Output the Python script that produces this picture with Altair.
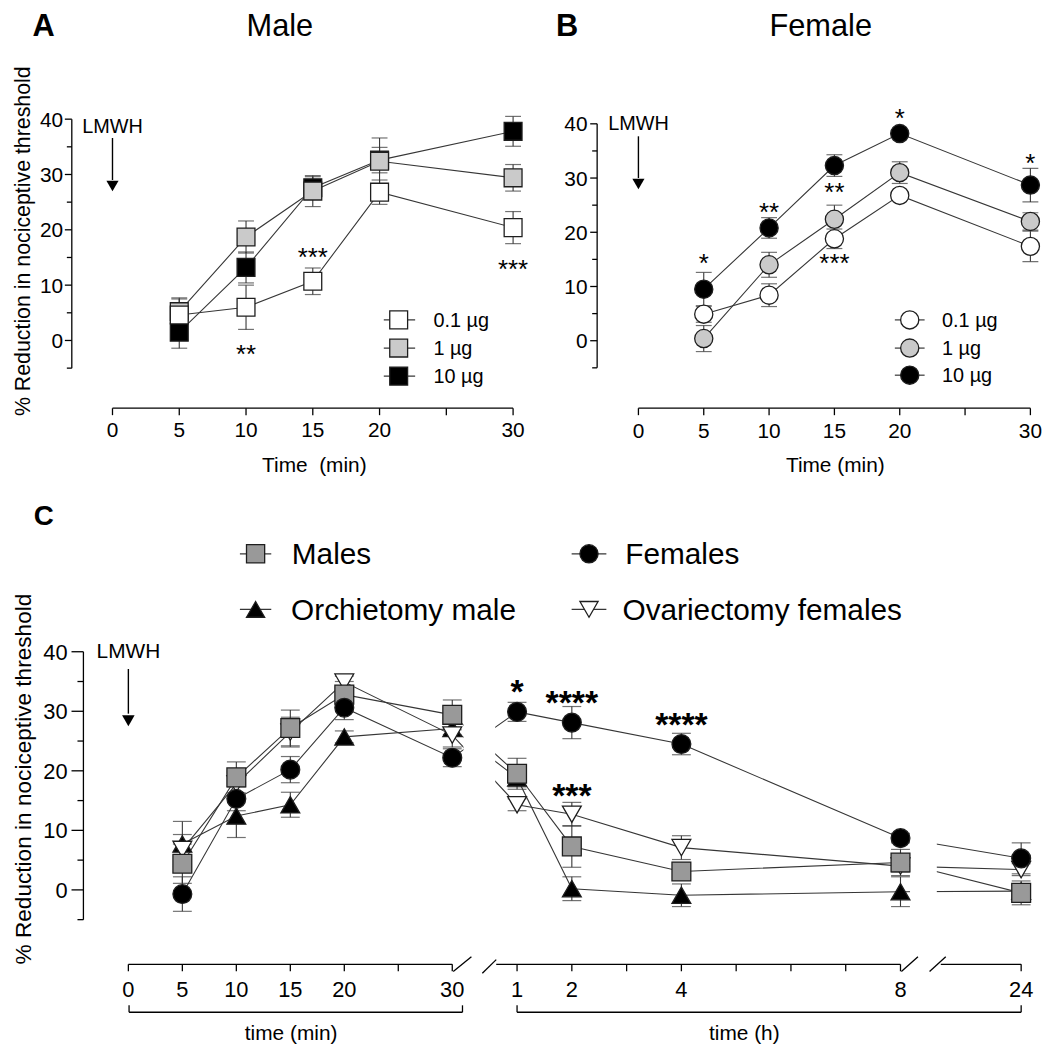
import altair as alt
import pandas as pd

OFF = 8                      # page margin
W, H = 1042, 1039
FONT = "Liberation Sans"
INK = "#000000"
LINE = "#363636"
EDGE = "#1e1e1e"
LIGHT = "#cacaca"
MID = "#999999"

# ---------------- data: panel A (Male) ----------------
A_TIME = [5, 10, 15, 20, 30]
A_NAMES = ["0.1 µg", "1 µg", "10 µg"]
A_MEAN = [[4.6, 6.0, 10.7, 26.8, 20.4],
          [5.2, 18.7, 27.0, 32.4, 29.4],
          [1.5, 13.2, 27.6, 32.6, 37.8]]
A_SEM = [[2.9, 4.0, 2.4, 2.2, 2.9],
         [2.5, 2.9, 2.8, 4.2, 2.4],
         [2.9, 2.8, 2.0, 2.3, 2.7]]
A_STAR_TEXT = ["**", "***", "***"]
A_STAR_T = [10, 15, 30]
A_STAR_V = [-1.4, 16.1, 13.9]

# ---------------- data: panel B (Female) ----------------
B_TIME = [5, 10, 15, 20, 30]
B_NAMES = ["0.1 µg", "1 µg", "10 µg"]
B_MEAN = [[4.9, 8.4, 18.8, 26.8, 17.4],
          [0.4, 14.0, 22.4, 31.0, 22.0],
          [9.5, 20.8, 32.3, 38.2, 28.7]]
B_SEM = [[1.5, 2.1, 1.8, 0.8, 2.8],
         [2.4, 2.3, 2.6, 2.0, 1.6],
         [3.1, 1.9, 2.0, 0.5, 3.1]]
B_STAR_TEXT = ["*", "**", "**", "***", "*", "*"]
B_STAR_T = [5, 10, 15, 15, 20, 30]
B_STAR_V = [15.5, 24.9, 28.5, 15.4, 42.2, 33.8]

# ---------------- data: panel C (time in minutes after LMWH) ----------------
C_TIME = [5, 10, 15, 20, 30, 60, 120, 240, 480, 1440]
C_NAMES = ["Orchietomy male", "Ovariectomy females", "Males", "Females"]
C_MEAN = [[7.7, 12.4, 14.3, 25.7, 27.1, 18.8, 0.2, -0.9, -0.3, -0.2],
          [6.8, 17.8, 26.5, 34.9, 26.0, 14.3, 12.7, 7.1, 4.0, 3.4],
          [4.4, 18.9, 27.2, 32.8, 29.4, 19.5, 7.3, 3.1, 4.6, -0.5],
          [-0.7, 15.3, 20.2, 30.6, 22.2, 29.9, 28.1, 24.5, 8.7, 5.3]]
C_SEM = [[3.8, 3.6, 2.1, 1.0, 1.0, 1.5, 2.0, 1.9, 2.5, 1.0],
         [2.5, 2.0, 2.5, 1.0, 2.0, 1.0, 2.0, 2.0, 1.0, 1.0],
         [3.3, 2.6, 3.0, 2.2, 2.5, 2.6, 3.5, 1.5, 2.2, 2.0],
         [2.9, 2.0, 2.2, 2.0, 1.5, 1.6, 2.7, 1.8, 0.8, 2.6]]
C_STAR_TEXT = ["*", "****", "****", "***"]
C_STAR_T = [60, 120, 240, 120]
C_STAR_V = [34.6, 32.8, 29.1, 17.1]

# ---------------- tick labels ----------------
MIN_TICKS = [0, 5, 10, 15, 20, 25, 30]
MIN_LABELS = ["0", "5", "10", "15", "20", "", "30"]
HOUR_TICKS = [60, 120, 180, 240, 300, 360, 420, 480, 1440]
HOUR_LABELS = ["1", "2", "", "4", "", "", "", "8", "24"]
Y_TICKS = [-5, 0, 5, 10, 15, 20, 25, 30, 35, 40]
Y_LABELS = ["", "0", "", "10", "", "20", "", "30", "", "40"]

# ---------------- styles ----------------
STYLE_AB = {"0.1 µg": "white", "1 µg": LIGHT, "10 µg": "black"}
STYLE_C = {"Males": ("square", MID), "Females": ("circle", "black"),
           "Orchietomy male": ("triangle-up", "black"),
           "Ovariectomy females": ("triangle-down", "white")}

# ---------------- geometry (page pixels) ----------------
GA = dict(xdom=[0, 30], xrng=[113.3, 517.0], yrng=[366.9, 116.0], yax=72.3, ylab=63.5,
          xax=407.3, xbase=436.7, tmaj=7, tmin=5, fs=21)
GB = dict(xdom=[0, 30], xrng=[643.3, 1038.3], yrng=[366.6, 120.7], yax=601.7, ylab=592.0,
          xax=407.3, xbase=437.0, tmaj=7, tmin=5, fs=21)
GC = dict(xdom=[0, 30, 60, 480, 1440], xrng=[129.3, 455.7, 521.0, 907.4, 1029.0],
          yrng=[922.7, 652.7], yax=84.0, ylab=68.0, xax=967.7, xbase=1000.5,
          tmaj=12, tmin=6, fs=22)


def P(v):
    return v - OFF


def xsc(g):
    return alt.Scale(domain=g["xdom"], range=[P(v) for v in g["xrng"]], nice=False, zero=False)


def ysc(g):
    return alt.Scale(domain=[-5, 40], range=[P(v) for v in g["yrng"]], nice=False, zero=False)


def series_frame(times, names, means, sems, shapes, fills, size):
    rows = []
    for z, (name, m, s) in enumerate(zip(names, means, sems)):
        for t, v, e in zip(times, m, s):
            rows.append(dict(series=name, t=t, v=v, lo=v - e, hi=v + e,
                             shape=shapes[name], fill=fills[name], size=size, z=z))
    return pd.DataFrame(rows)


def data_layers(g, df, cap, masks=()):
    xs, ys = xsc(g), ysc(g)
    X = alt.X("t:Q", scale=xs, axis=None)
    Yv = alt.Y("v:Q", scale=ys, axis=None)
    base = alt.Chart(df)
    out = [base.mark_line(color=LINE, strokeWidth=1.1).encode(x=X, y=Yv, detail="series:N")]
    for (x1, x2, y1, y2) in masks:
        out.append(alt.Chart(pd.DataFrame({"k": [0]})).mark_rect(fill="white").encode(
            x=alt.value(P(x1)), x2=alt.value(P(x2)), y=alt.value(P(y1)), y2=alt.value(P(y2))))
    out.append(base.mark_rule(color=LINE, strokeWidth=1.1).encode(
        x=X, y=alt.Y("lo:Q", scale=ys, axis=None), y2="hi:Q"))
    for fld in ("lo", "hi"):
        out.append(base.mark_tick(orient="horizontal", size=cap, thickness=1.2, color=LINE).encode(
            x=X, y=alt.Y(f"{fld}:Q", scale=ys, axis=None)))
    out.append(base.mark_point(filled=True, opacity=1, stroke=EDGE, strokeWidth=1.3).encode(
        x=X, y=Yv,
        fill=alt.Fill("fill:N", scale=None),
        shape=alt.Shape("shape:N", scale=None),
        size=alt.Size("size:Q", scale=None),
        order=alt.Order("z:Q")))
    return out


def y_axis_layers(g):
    ys = ysc(g)
    fs = g["fs"]
    out = [alt.Chart(pd.DataFrame({"lo": [min(Y_TICKS)], "hi": [max(Y_TICKS)]})).mark_rule(
        color=INK, strokeWidth=1.3).encode(x=alt.value(P(g["yax"])),
                                           y=alt.Y("lo:Q", scale=ys, axis=None), y2="hi:Q")]
    yt = pd.DataFrame({"v": Y_TICKS, "lab": Y_LABELS})
    maj = yt[yt["lab"] != ""]
    mnr = yt[yt["lab"] == ""]
    out.append(alt.Chart(maj).mark_rule(color=INK, strokeWidth=1.3).encode(
        x=alt.value(P(g["yax"] - g["tmaj"])), x2=alt.value(P(g["yax"])),
        y=alt.Y("v:Q", scale=ys, axis=None)))
    out.append(alt.Chart(mnr).mark_rule(color=INK, strokeWidth=1.3).encode(
        x=alt.value(P(g["yax"] - g["tmin"])), x2=alt.value(P(g["yax"])),
        y=alt.Y("v:Q", scale=ys, axis=None)))
    out.append(alt.Chart(maj).mark_text(font=FONT, fontSize=fs, align="right", baseline="alphabetic",
                                        dy=0.358 * fs, color=INK).encode(
        x=alt.value(P(g["ylab"])), y=alt.Y("v:Q", scale=ys, axis=None), text="lab:N"))
    return out


def x_axis_layers(g, xticks, xlabels, xline=True):
    xs = xsc(g)
    fs = g["fs"]
    out = []
    if xline:
        out.append(alt.Chart(pd.DataFrame({"a": [xticks[0]], "b": [xticks[-1]]})).mark_rule(
            color=INK, strokeWidth=1.3).encode(x=alt.X("a:Q", scale=xs, axis=None), x2="b:Q",
                                               y=alt.value(P(g["xax"]))))
    xt = pd.DataFrame({"t": xticks, "lab": xlabels})
    out.append(alt.Chart(xt).mark_rule(color=INK, strokeWidth=1.3).encode(
        x=alt.X("t:Q", scale=xs, axis=None), y=alt.value(P(g["xax"])), y2=alt.value(P(g["xax"] + 7))))
    out.append(alt.Chart(xt).mark_text(font=FONT, fontSize=fs, align="center", baseline="alphabetic",
                                       color=INK).encode(
        x=alt.X("t:Q", scale=xs, axis=None), y=alt.value(P(g["xbase"])), text="lab:N"))
    return out


def lmwh_layers(g, top, bot, head, head_size, base_y, fs):
    xs, ys = xsc(g), ysc(g)
    d = pd.DataFrame({"t": [0], "a": [top], "b": [bot], "h": [head], "lab": ["LMWH"]})
    X = alt.X("t:Q", scale=xs, axis=None)
    return [
        alt.Chart(d).mark_rule(color=INK, strokeWidth=1.4).encode(
            x=X, y=alt.Y("a:Q", scale=ys, axis=None), y2="b:Q"),
        alt.Chart(d).mark_point(shape="triangle-down", filled=True, fill=INK, opacity=1,
                                size=head_size, strokeWidth=0).encode(
            x=X, y=alt.Y("h:Q", scale=ys, axis=None)),
        alt.Chart(d).mark_text(font=FONT, fontSize=fs, align="center", baseline="alphabetic",
                               color=INK).encode(x=X, y=alt.value(P(base_y)), text="lab:N"),
    ]


def star_layer(g, texts, times, vals, fs, weight):
    xs, ys = xsc(g), ysc(g)
    d = pd.DataFrame({"t": times, "v": vals, "s": texts})
    return alt.Chart(d).mark_text(font=FONT, fontSize=fs, fontWeight=weight, align="center",
                                  baseline="alphabetic", dy=0.575 * fs, color=INK).encode(
        x=alt.X("t:Q", scale=xs, axis=None), y=alt.Y("v:Q", scale=ys, axis=None), text="s:N")


# ---------------- panel A ----------------
ordA = [2, 1, 0]
dfA = series_frame(A_TIME, [A_NAMES[i] for i in ordA], [A_MEAN[i] for i in ordA],
                   [A_SEM[i] for i in ordA], {n: "square" for n in A_NAMES}, STYLE_AB, 324)
panelA = alt.layer(*y_axis_layers(GA), *x_axis_layers(GA, MIN_TICKS, MIN_LABELS),
                   *lmwh_layers(GA, 36.6, 29.0, 27.9, 150, 130.0, 20),
                   *data_layers(GA, dfA, 16),
                   star_layer(GA, A_STAR_TEXT, A_STAR_T, A_STAR_V, 26, "normal"))

# ---------------- panel B ----------------
dfB = series_frame(B_TIME, [B_NAMES[i] for i in ordA], [B_MEAN[i] for i in ordA],
                   [B_SEM[i] for i in ordA], {n: "circle" for n in B_NAMES}, STYLE_AB, 335)
panelB = alt.layer(*y_axis_layers(GB), *x_axis_layers(GB, MIN_TICKS, MIN_LABELS),
                   *lmwh_layers(GB, 37.7, 30.0, 28.9, 150, 126.7, 20),
                   *data_layers(GB, dfB, 16),
                   star_layer(GB, B_STAR_TEXT, B_STAR_T, B_STAR_V, 26, "normal"))

# ---------------- panel C ----------------
dfC = series_frame(C_TIME, C_NAMES, C_MEAN, C_SEM,
                   {n: STYLE_C[n][0] for n in C_NAMES}, {n: STYLE_C[n][1] for n in C_NAMES}, 360)
panelC = alt.layer(*y_axis_layers(GC), *x_axis_layers(GC, MIN_TICKS, MIN_LABELS),
                   *x_axis_layers(GC, HOUR_TICKS, HOUR_LABELS, xline=False),
                   *lmwh_layers(GC, 37.1, 29.6, 28.4, 160, 659.3, 21),
                   *data_layers(GC, dfC, 19, masks=[(467, 499, 630, 935), (917, 944, 630, 935)]),
                   star_layer(GC, C_STAR_TEXT, C_STAR_T, C_STAR_V, 34, "bold"))

# ---------------- decorations (page pixel layout) ----------------
SEGS = [
    (386.7, 318.3, 418.3, 318.3), (386.7, 346.7, 418.3, 346.7), (386.7, 375.0, 418.3, 375.0),
    (901.7, 318.3, 931.7, 318.3), (901.7, 346.7, 931.7, 346.7), (901.7, 374.0, 931.7, 374.0),
    (241.7, 554.0, 273.3, 554.0), (241.7, 610.0, 273.3, 610.0),
    (576.0, 554.0, 611.0, 554.0), (576.0, 610.0, 611.0, 610.0),
]
AXSEGS = [
    (500.0, 967.7, 907.4, 967.7), (948.0, 967.7, 1029.0, 967.7),
    (456.7, 975.0, 475.0, 960.0), (486.0, 976.7, 500.0, 963.0),
    (908.3, 975.0, 925.0, 960.0), (936.7, 975.0, 953.0, 960.0),
    (130.0, 1016.0, 466.0, 1016.0), (130.0, 1009.0, 130.0, 1016.0), (466.0, 1009.0, 466.0, 1016.0),
    (521.0, 1016.0, 1029.0, 1016.0), (521.0, 1009.0, 521.0, 1016.0), (1029.0, 1009.0, 1029.0, 1016.0),
]


def seg_layer(segs, color, width):
    d = pd.DataFrame(segs, columns=["x1", "y1", "x2", "y2"]) - OFF
    return alt.Chart(d).mark_rule(color=color, strokeWidth=width).encode(
        x=alt.X("x1:Q", scale=None), x2="x2:Q", y=alt.Y("y1:Q", scale=None), y2="y2:Q")


def text_layer(rows, **kw):
    d = pd.DataFrame(rows, columns=["x", "y", "s"])
    d["x"] = d["x"] - OFF
    d["y"] = d["y"] - OFF
    params = dict(font=FONT, color=INK, baseline="alphabetic", align="center")
    params.update(kw)
    return alt.Chart(d).mark_text(**params).encode(
        x=alt.X("x:Q", scale=None), y=alt.Y("y:Q", scale=None), text="s:N")


LEG_A = [(401.7, 318.3, "white"), (401.7, 346.7, LIGHT), (401.7, 375.0, "black")]
LEG_B = [(916.7, 318.3, "white"), (916.7, 346.7, LIGHT), (916.7, 374.0, "black")]
LEG_C = [(257.5, 554.0, "square", MID), (593.5, 554.0, "circle", "black"),
         (257.5, 610.0, "triangle-up", "black"), (593.5, 610.0, "triangle-down", "white")]

legsym = pd.DataFrame(
    [(x, y, "square", f, 324) for x, y, f in LEG_A] +
    [(x, y, "circle", f, 335) for x, y, f in LEG_B] +
    [(x, y, s, f, 335) for x, y, s, f in LEG_C], columns=["x", "y", "shape", "fill", "size"])
legsym["x"] = legsym["x"] - OFF
legsym["y"] = legsym["y"] - OFF
leg_points = alt.Chart(legsym).mark_point(filled=True, opacity=1, stroke=EDGE, strokeWidth=1.3).encode(
    x=alt.X("x:Q", scale=None), y=alt.Y("y:Q", scale=None),
    fill=alt.Fill("fill:N", scale=None), shape=alt.Shape("shape:N", scale=None),
    size=alt.Size("size:Q", scale=None))

deco = alt.layer(
    seg_layer(SEGS, LINE, 1.2),
    seg_layer(AXSEGS, INK, 1.3),
    leg_points,
    text_layer([(282, 32, "Male"), (827, 32, "Female")], fontSize=31),
    text_layer([(44, 32, "A"), (571.5, 32, "B")], fontSize=31, fontWeight="bold"),
    text_layer([(44, 525, "C")], fontSize=28, fontWeight="bold"),
    text_layer([(436.7, 325.0, A_NAMES[0]), (436.7, 353.4, A_NAMES[1]), (436.7, 381.7, A_NAMES[2]),
                (949.3, 325.0, B_NAMES[0]), (949.3, 353.4, B_NAMES[1]), (949.3, 380.7, B_NAMES[2])],
               fontSize=20, align="left"),
    text_layer([(294.0, 564.7, "Males"), (293.3, 620.7, "Orchietomy male"),
                (630.0, 564.7, "Females"), (627.3, 620.7, "Ovariectomy females")],
               fontSize=30, align="left"),
    text_layer([(316.7, 472.0, "Time\u00a0\u00a0(min)"), (841.7, 472.0, "Time (min)"),
                (293.3, 1043.5, "time (min)"), (750.0, 1043.5, "time (h)")], fontSize=21),
    text_layer([(30.0, 239.0, "% Reduction in nociceptive threshold")], fontSize=21.5, angle=270),
    text_layer([(31.0, 781.0, "% Reduction in nociceptive threshold")], fontSize=22.8, angle=270),
)

chart = alt.layer(panelA, panelB, panelC, deco).resolve_scale(
    x="independent", y="independent"
).properties(
    width=W, height=H, autosize=alt.AutoSizeParams(type="none"), padding=0
).configure_view(stroke=None)

chart.save("out.html", embed_options={"renderer": "svg", "actions": False})
